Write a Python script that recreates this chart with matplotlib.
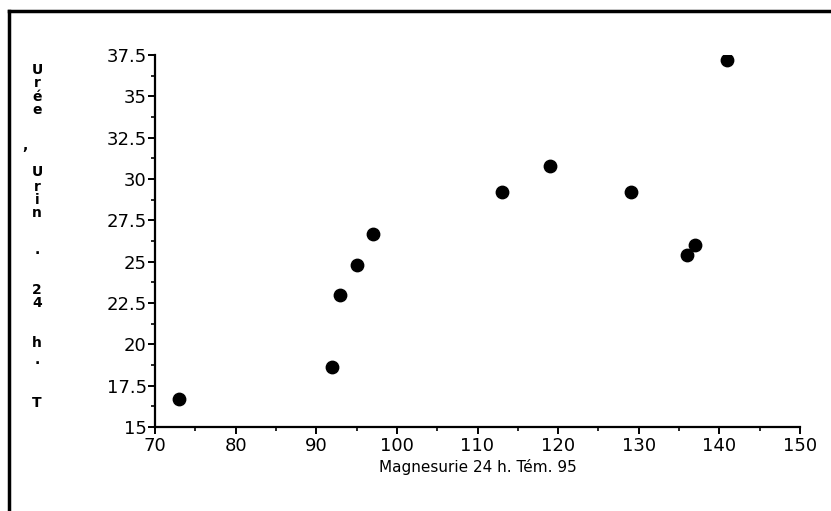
import numpy as np
import matplotlib
matplotlib.use('Agg')
import matplotlib.pyplot as plt
from matplotlib.lines import Line2D
from matplotlib.ticker import MultipleLocator

# Magnesurie 24 h. Tem. 95 vs Uree, Urin. 24 h. T
magnesurie = [73, 92, 93, 95, 97, 113, 119, 129, 136, 137, 141]
uree = [16.7, 18.6, 23.0, 24.8, 26.7, 29.2, 30.8, 29.2, 25.4, 26.0, 37.2]

xlabel = 'Magnesurie 24 h. Tém. 95'
ylabel_chars = ['U', 'r', 'é', 'e', ',', 'U', 'r', 'i', 'n', '.', '2', '4', 'h', '.', 'T']
# vertical pixel position (from top) of each stacked letter
ylabel_pix = [70, 83, 97, 110, 146, 172, 187, 200, 213, 250, 290, 303, 343, 360, 403]

W, H = 831, 511
fig = plt.figure(figsize=(W / 100, H / 100), dpi=100)
ax = fig.add_axes([155 / W, 1 - 427 / H, (800 - 155) / W, (427 - 55) / H])

ax.scatter(magnesurie, uree, s=80, color='black', zorder=3)

ax.set_xlim(70, 150)
ax.set_ylim(15, 37.5)
ax.xaxis.set_major_locator(MultipleLocator(10))
ax.xaxis.set_minor_locator(MultipleLocator(5))
ax.yaxis.set_major_locator(MultipleLocator(2.5))
ax.yaxis.set_minor_locator(MultipleLocator(1.25))
ax.yaxis.set_major_formatter(plt.FuncFormatter(lambda v, p: ('%g' % v)))

for s in ['top', 'right']:
    ax.spines[s].set_visible(False)
for s in ['left', 'bottom']:
    ax.spines[s].set_linewidth(1.6)

ax.tick_params(which='major', direction='out', length=5, width=1.4, labelsize=13, pad=1)
ax.tick_params(which='minor', direction='out', length=3, width=1.2)
ax.tick_params(axis='x', which='major', pad=2)

ax.set_xlabel(xlabel, fontsize=11, labelpad=3)

for ch, py in zip(ylabel_chars, ylabel_pix):
    fx = 25 / W if ch == ',' else 37 / W
    fig.text(fx, 1 - py / H, ch, ha='center', va='center', fontsize=10, fontweight='bold')

# outer frame: only the top and left edges show, the rest is cut off
fig.add_artist(Line2D([9 / W, 1], [1 - 11 / H, 1 - 11 / H], transform=fig.transFigure,
                      color='black', linewidth=2.5, solid_capstyle='projecting'))
fig.add_artist(Line2D([9 / W, 9 / W], [1 - 11 / H, 0], transform=fig.transFigure,
                      color='black', linewidth=2.5, solid_capstyle='projecting'))

fig.savefig('out.png', dpi=100)
